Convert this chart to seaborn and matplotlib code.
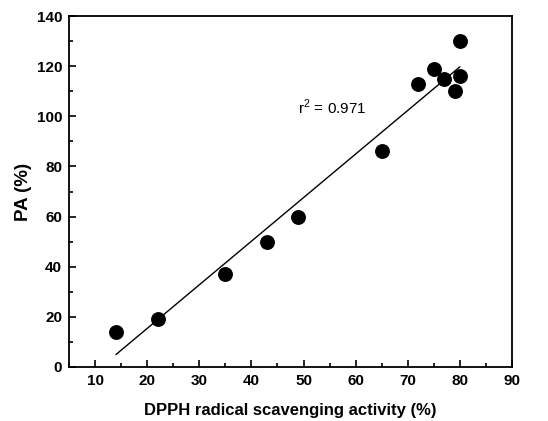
import matplotlib
matplotlib.use("Agg")
import matplotlib.pyplot as plt
import seaborn as sns
import pandas as pd
from matplotlib.ticker import MultipleLocator

dpph = [14, 22, 35, 43, 49, 65, 72, 75, 77, 79, 80, 80]
pa = [14, 19, 37, 50, 60, 86, 113, 119, 115, 110, 130, 116]
r2_label = "r$^2$ = 0.971"

df = pd.DataFrame({"DPPH": dpph, "PA": pa})

sns.set_style("ticks")
plt.rcParams['font.family'] = ['Liberation Sans', 'DejaVu Sans']
plt.rcParams['mathtext.fontset'] = 'custom'
plt.rcParams['mathtext.rm'] = 'Liberation Sans'
plt.rcParams['text.color'] = 'black'
plt.rcParams['axes.labelcolor'] = 'black'
plt.rcParams['xtick.color'] = 'black'
plt.rcParams['ytick.color'] = 'black'

fig = plt.figure(figsize=(5.48, 4.21), dpi=100)
ax = fig.add_axes([69/548, 1-367/421, (512-69)/548, (367-16)/421])

sns.regplot(data=df, x="DPPH", y="PA", ax=ax, ci=None, truncate=True,
            scatter_kws=dict(s=115, color="black", edgecolor="black", linewidths=0, alpha=1),
            line_kws=dict(color="black", lw=1.0))

ax.set_xlim(5, 90)
ax.set_ylim(0, 140)
ax.xaxis.set_major_locator(MultipleLocator(10))
ax.xaxis.set_minor_locator(MultipleLocator(5))
ax.yaxis.set_major_locator(MultipleLocator(20))
ax.yaxis.set_minor_locator(MultipleLocator(10))
ax.tick_params(which="both", direction="in", top=False, right=False, width=1.2, colors="black")
ax.tick_params(which="major", length=5, labelsize=11, pad=5)
ax.tick_params(which="minor", length=3)
for lab in ax.get_xticklabels() + ax.get_yticklabels():
    lab.set_fontweight("bold")
for sp in ax.spines.values():
    sp.set_visible(True)
    sp.set_linewidth(1.3)
    sp.set_color("black")

ax.set_xlabel("DPPH radical scavenging activity (%)", fontsize=12, fontweight="bold", labelpad=11, color="black")
ax.set_ylabel("PA (%)", fontsize=13.5, fontweight="bold", labelpad=3, color="black")
ax.text(49, 101, r2_label, fontsize=11, ha="left", va="baseline", color="black")

fig.savefig("out.png", dpi=100)
